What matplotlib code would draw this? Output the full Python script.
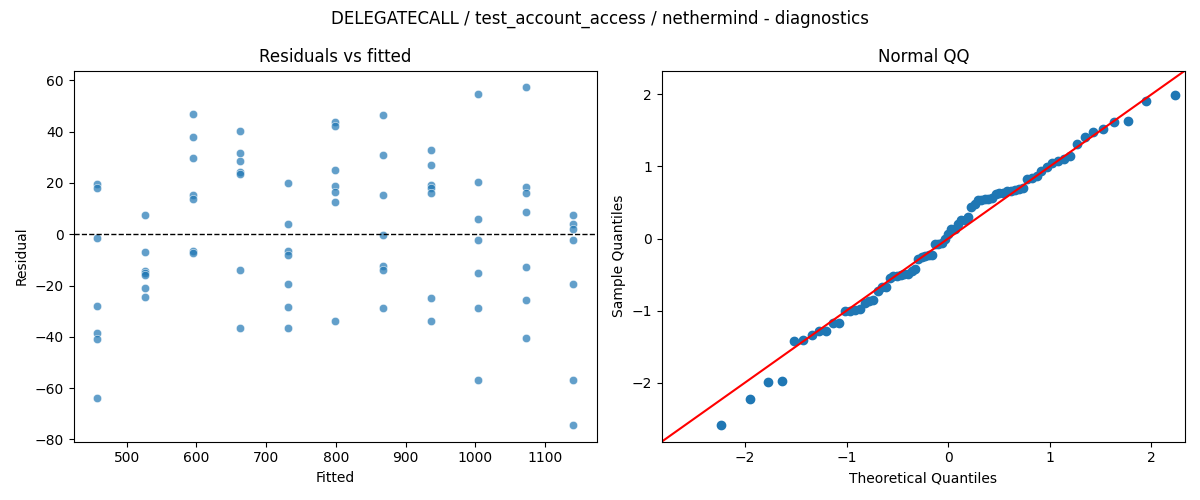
import statistics

import matplotlib
matplotlib.use("Agg")
import matplotlib.pyplot as plt
import numpy as np
import pandas as pd
import seaborn as sns

TITLE = "DELEGATECALL / test_account_access / nethermind - diagnostics"

# fitted level of each group (7 residuals per level)
fitted_levels = [458, 526, 595, 663, 731, 799, 868, 936, 1004, 1072, 1140]

residual_groups = [
    [19.4, 17.9, -1.6, -27.9, -38.5, -40.7, -63.8],
    [7.4, -7.0, -14.3, -15.0, -15.8, -21.0, -24.5],
    [46.7, 37.7, 29.9, 15.3, 13.6, -6.5, -7.5],
    [40.4, 31.5, 28.6, 24.1, 23.6, -13.9, -36.6],
    [19.8, 3.9, -6.5, -8.2, -19.3, -28.3, -36.6],
    [43.7, 42.3, 24.9, 18.8, 16.3, 12.4, -33.7],
    [46.4, 30.7, 15.3, -0.3, -12.3, -13.9, -28.8],
    [32.7, 26.8, 19.1, 18.1, 15.9, -24.9, -33.7],
    [54.8, 20.2, 5.8, -2.3, -15.0, -28.8, -57.0],
    [57.2, 18.3, 15.9, 8.6, -12.8, -25.7, -40.4],
    [7.4, 3.9, 1.9, -2.3, -19.4, -56.8, -74.3],
]

# shared x/y range of the QQ panel
QQ_LIM = (-2.82, 2.33)

fitted = [f for f, grp in zip(fitted_levels, residual_groups) for _ in grp]
residuals = [r for grp in residual_groups for r in grp]
df = pd.DataFrame({"fitted": fitted, "resid": residuals})

fig, (ax1, ax2) = plt.subplots(1, 2, figsize=(12, 5))

# residuals vs fitted
sns.scatterplot(data=df, x="fitted", y="resid", alpha=0.7, ax=ax1)
ax1.axhline(0, color="black", linestyle="--", linewidth=1)
ax1.set_title("Residuals vs fitted")
ax1.set_xlabel("Fitted")
ax1.set_ylabel("Residual")

# normal QQ (standardised residuals, plotting positions i/(n+1))
res = np.sort(np.asarray(residuals))
n = len(res)
sample_q = (res - res.mean()) / res.std()
nd = statistics.NormalDist()
theo_q = np.array([nd.inv_cdf(i / (n + 1)) for i in range(1, n + 1)])

ax2.plot(theo_q, sample_q, marker="o", linestyle="none",
         markerfacecolor="C0", markeredgecolor="C0")
ax2.plot(QQ_LIM, QQ_LIM, color="r")
ax2.set_xlim(QQ_LIM)
ax2.set_ylim(QQ_LIM)
ax2.set_title("Normal QQ")
ax2.set_xlabel("Theoretical Quantiles")
ax2.set_ylabel("Sample Quantiles")

fig.suptitle(TITLE)
fig.tight_layout()
fig.savefig("out.png", dpi=100)
plt.close(fig)
